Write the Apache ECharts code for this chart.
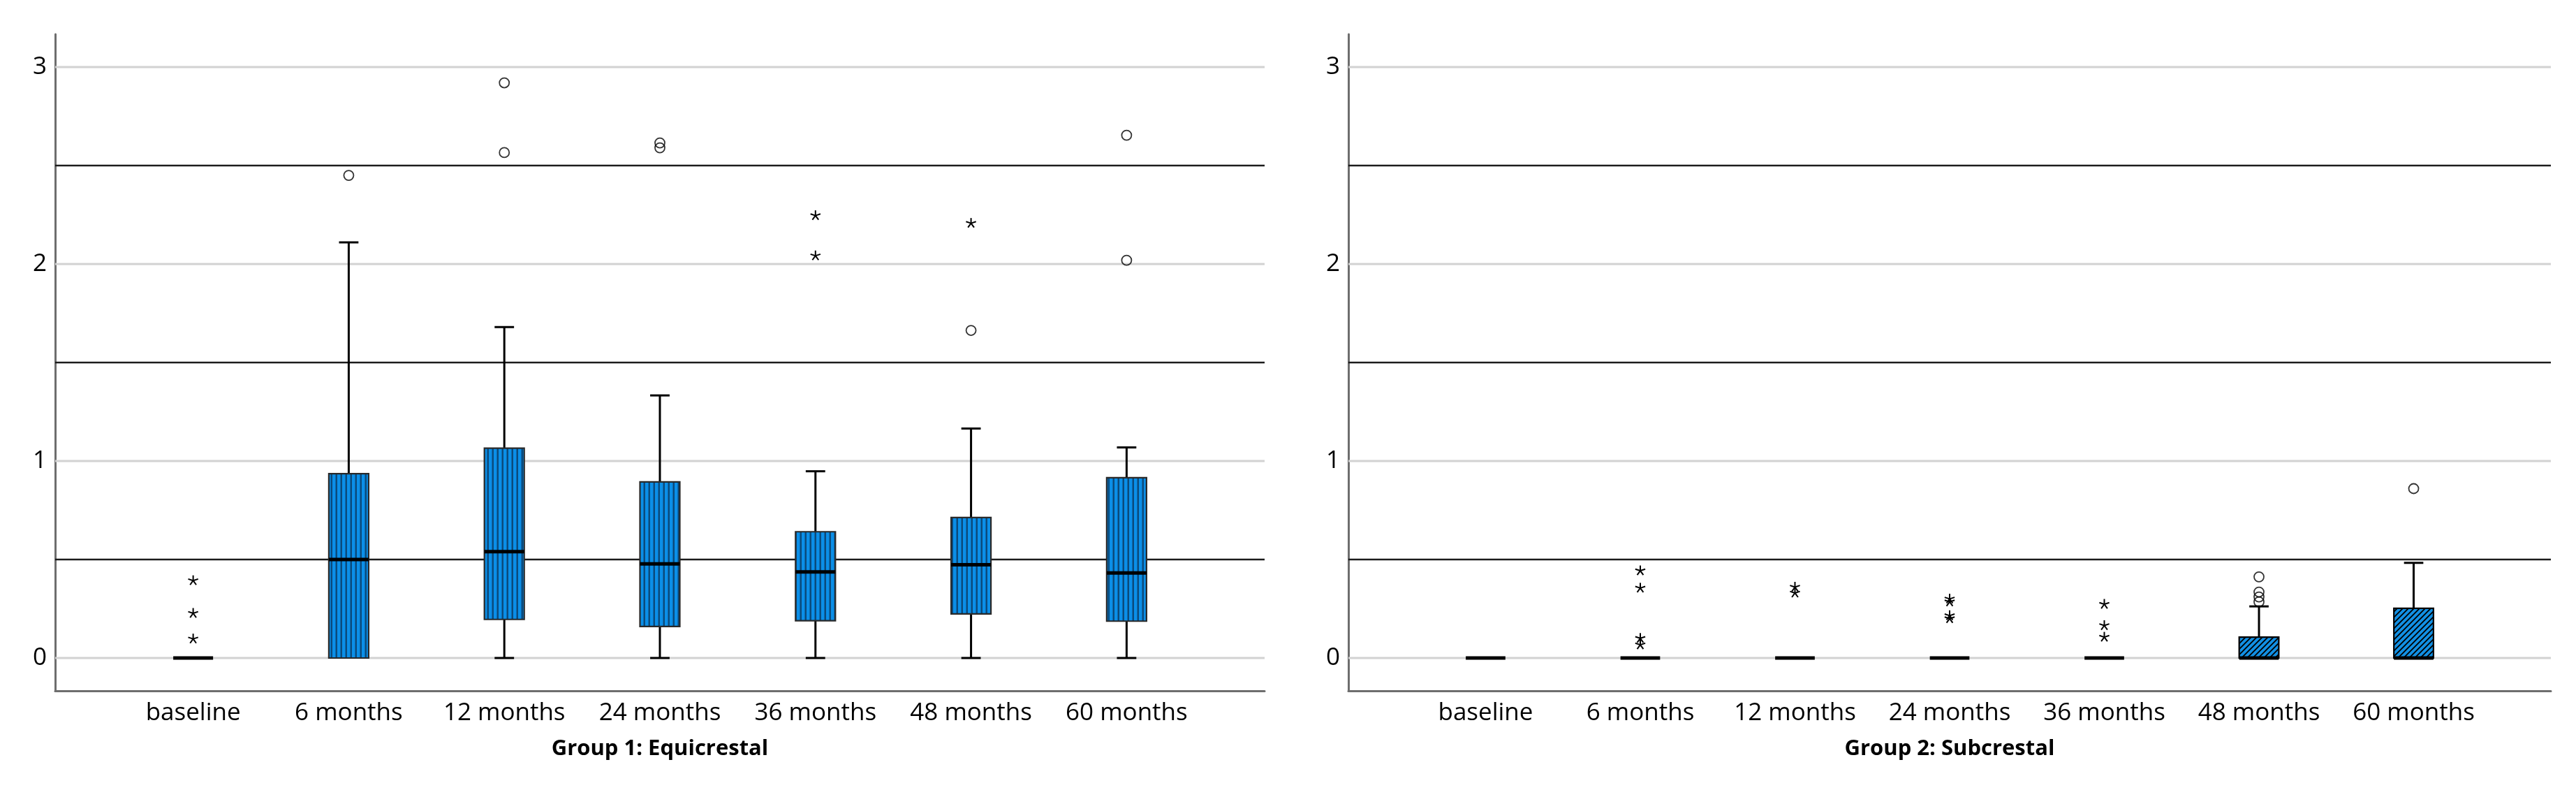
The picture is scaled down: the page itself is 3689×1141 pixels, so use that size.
<!DOCTYPE html>
<html>
<head>
<meta charset="utf-8">
<script src="https://cdn.jsdelivr.net/npm/echarts@6/dist/echarts.min.js"></script>
<style>
html,body{margin:0;padding:0;background:#fff;}
#chart{width:3689px;height:1141px;}
</style>
</head>
<body>
<div id="chart"></div>
<script>
// ---------- data ----------
const categories = ['baseline', '6 months', '12 months', '24 months', '36 months', '48 months', '60 months'];
const yTicks = [0, 1, 2, 3];
const refLines = [0.5, 1.5, 2.5];

// Group 1: Equicrestal
const g1Low    = [0, 0,     0,     0,     0,     0,     0];
const g1Q1     = [0, 0,     0.196, 0.16,  0.189, 0.224, 0.187];
const g1Median = [0, 0.50,  0.54,  0.478, 0.437, 0.473, 0.432];
const g1Q3     = [0, 0.936, 1.065, 0.894, 0.641, 0.713, 0.915];
const g1High   = [0, 2.11,  1.68,  1.333, 0.948, 1.165, 1.069];
const g1Outliers = [[1, 2.45], [2, 2.92], [2, 2.566], [3, 2.615], [3, 2.59], [5, 1.663], [6, 2.654], [6, 2.019]];
const g1Extremes = [[0, 0.393], [0, 0.227], [0, 0.097], [4, 2.246], [4, 2.042], [5, 2.207]];

// Group 2: Subcrestal
const g2Low    = [0, 0, 0, 0, 0, 0,     0];
const g2Q1     = [0, 0, 0, 0, 0, 0,     0];
const g2Median = [0, 0, 0, 0, 0, 0,     0];
const g2Q3     = [0, 0, 0, 0, 0, 0.106, 0.252];
const g2High   = [0, 0, 0, 0, 0, 0.262, 0.483];
const g2Outliers = [[5, 0.412], [5, 0.335], [5, 0.31], [5, 0.285], [6, 0.86]];
const g2Extremes = [[1, 0.443], [1, 0.355], [1, 0.10], [1, 0.067], [2, 0.36], [2, 0.33],
                    [3, 0.30], [3, 0.285], [3, 0.215], [3, 0.20], [4, 0.273], [4, 0.165], [4, 0.106]];

const groupNames = ['Group 1: Equicrestal', 'Group 2: Subcrestal'];

// ---------- patterns ----------
function stripePattern() {
  const c = document.createElement('canvas');
  c.width = 7; c.height = 7;
  const ctx = c.getContext('2d');
  ctx.fillStyle = '#0b8fe8';
  ctx.fillRect(0, 0, 7, 7);
  ctx.fillStyle = '#0a4a7c';
  ctx.fillRect(4.5, 0, 2.5, 7);
  return c;
}
function hatchPattern() {
  const c = document.createElement('canvas');
  c.width = 8; c.height = 8;
  const ctx = c.getContext('2d');
  ctx.fillStyle = '#1290e4';
  ctx.fillRect(0, 0, 8, 8);
  ctx.strokeStyle = '#000';
  ctx.lineWidth = 1.8;
  ctx.beginPath();
  ctx.moveTo(-2, 10); ctx.lineTo(10, -2);
  ctx.moveTo(-6, 6); ctx.lineTo(6, -6);
  ctx.moveTo(2, 14); ctx.lineTo(14, 2);
  ctx.stroke();
  return c;
}

function boxRows(lo, q1, med, q3, hi) {
  return categories.map((_, i) => [i, q1[i], med[i], q3[i], lo[i], hi[i]]);
}

function makeBoxRenderer(pattern, borderColor) {
  return function (params, api) {
    const i = api.value(0);
    const q1 = api.value(1), med = api.value(2), q3 = api.value(3), lo = api.value(4), hi = api.value(5);
    const x = api.coord([i, 0])[0];
    const yOf = v => api.coord([i, v])[1];
    const unit = api.size([1, 0])[0];
    const bw = unit * 0.256, cw = unit * 0.125;
    const ch = [];
    const wStyle = { stroke: '#000', lineWidth: 3 };
    if (hi > q3) {
      ch.push({ type: 'line', shape: { x1: x, y1: yOf(q3), x2: x, y2: yOf(hi) }, style: wStyle });
      ch.push({ type: 'line', shape: { x1: x - cw / 2, y1: yOf(hi), x2: x + cw / 2, y2: yOf(hi) }, style: wStyle });
    }
    if (lo < q1) {
      ch.push({ type: 'line', shape: { x1: x, y1: yOf(q1), x2: x, y2: yOf(lo) }, style: wStyle });
      ch.push({ type: 'line', shape: { x1: x - cw / 2, y1: yOf(lo), x2: x + cw / 2, y2: yOf(lo) }, style: wStyle });
    }
    if (q3 > q1) {
      ch.push({
        type: 'rect',
        shape: { x: x - bw / 2, y: yOf(q3), width: bw, height: yOf(q1) - yOf(q3) },
        style: { fill: { image: pattern, repeat: 'repeat' }, stroke: borderColor, lineWidth: 2.2 }
      });
    }
    ch.push({ type: 'line', shape: { x1: x - bw / 2, y1: yOf(med), x2: x + bw / 2, y2: yOf(med) }, style: { stroke: '#000', lineWidth: 5 } });
    return { type: 'group', children: ch };
  };
}

function renderStar(params, api) {
  const p = api.coord([api.value(0), api.value(1)]);
  const r = 7.5;
  const ch = [];
  for (let k = 0; k < 5; k++) {
    const a = (-90 + 72 * k) * Math.PI / 180;
    ch.push({ type: 'line', shape: { x1: p[0], y1: p[1], x2: p[0] + r * Math.cos(a), y2: p[1] + r * Math.sin(a) }, style: { stroke: '#000', lineWidth: 2 } });
  }
  return { type: 'group', children: ch };
}

// horizontal grid / reference lines spanning the plot area
function renderHLine(params, api) {
  const cs = params.coordSys;
  const y = api.coord([0, api.value(0)])[1];
  const isRef = api.value(1) === 1;
  return {
    type: 'line',
    shape: { x1: cs.x, y1: y, x2: cs.x + cs.width, y2: y },
    style: isRef ? { stroke: '#1c1c1c', lineWidth: 2.5 } : { stroke: '#d2d2d2', lineWidth: 3 }
  };
}
const hLineRows = yTicks.map(v => [v, 0]).concat(refLines.map(v => [v, 1]));

const FONT = 'Open Sans';
const grids = [
  { left: 79, top: 49, width: 1732, height: 940 },
  { left: 1931, top: 49, width: 1722, height: 940 }
];

const xAxes = grids.map((g, k) => ({
  type: 'value', gridIndex: k, min: -0.887, max: 6.887,
  axisLine: { show: true, onZero: false, lineStyle: { color: '#6e6e6e', width: 3 } },
  axisTick: { show: false },
  splitLine: { show: false },
  axisLabel: {
    customValues: categories.map((_, i) => i),
    formatter: v => categories[Math.round(v)],
    fontFamily: FONT, fontSize: 35, color: '#000', margin: 15
  },
  name: groupNames[k], nameLocation: 'middle', nameGap: 68,
  nameTextStyle: { fontFamily: FONT, fontSize: 31, fontWeight: 'bold', color: '#000' }
}));

const yAxes = grids.map((g, k) => ({
  type: 'value', gridIndex: k, min: -1 / 6, max: 19 / 6,
  axisLine: { show: true, onZero: false, lineStyle: { color: '#6e6e6e', width: 3 } },
  axisTick: { show: false },
  splitLine: { show: false },
  axisLabel: { customValues: yTicks, fontFamily: FONT, fontSize: 35, color: '#000', margin: 12 }
}));

const stripes = stripePattern();
const hatch = hatchPattern();
const groups = [
  { rows: boxRows(g1Low, g1Q1, g1Median, g1Q3, g1High), out: g1Outliers, ext: g1Extremes, pat: stripes, border: '#2a2a2a' },
  { rows: boxRows(g2Low, g2Q1, g2Median, g2Q3, g2High), out: g2Outliers, ext: g2Extremes, pat: hatch, border: '#000' }
];

const series = [];
groups.forEach((g, k) => {
  series.push({
    type: 'custom', xAxisIndex: k, yAxisIndex: k, z: 1, silent: true, clip: false,
    renderItem: renderHLine, data: hLineRows, animation: false,
    encode: { y: 0 }
  });
  series.push({
    type: 'custom', xAxisIndex: k, yAxisIndex: k, z: 3,
    renderItem: makeBoxRenderer(g.pat, g.border), data: g.rows, animation: false
  });
  series.push({
    type: 'scatter', xAxisIndex: k, yAxisIndex: k, z: 4, data: g.out,
    symbol: 'circle', symbolSize: 14, animation: false,
    itemStyle: { color: 'rgba(0,0,0,0)', borderColor: '#000', borderWidth: 1.8 }
  });
  series.push({
    type: 'custom', xAxisIndex: k, yAxisIndex: k, z: 4,
    renderItem: renderStar, data: g.ext, animation: false
  });
});

const chart = echarts.init(document.getElementById('chart'), null, { renderer: 'canvas' });
chart.setOption({
  backgroundColor: '#fff',
  animation: false,
  grid: grids,
  xAxis: xAxes,
  yAxis: yAxes,
  series: series
});
</script>
</body>
</html>
